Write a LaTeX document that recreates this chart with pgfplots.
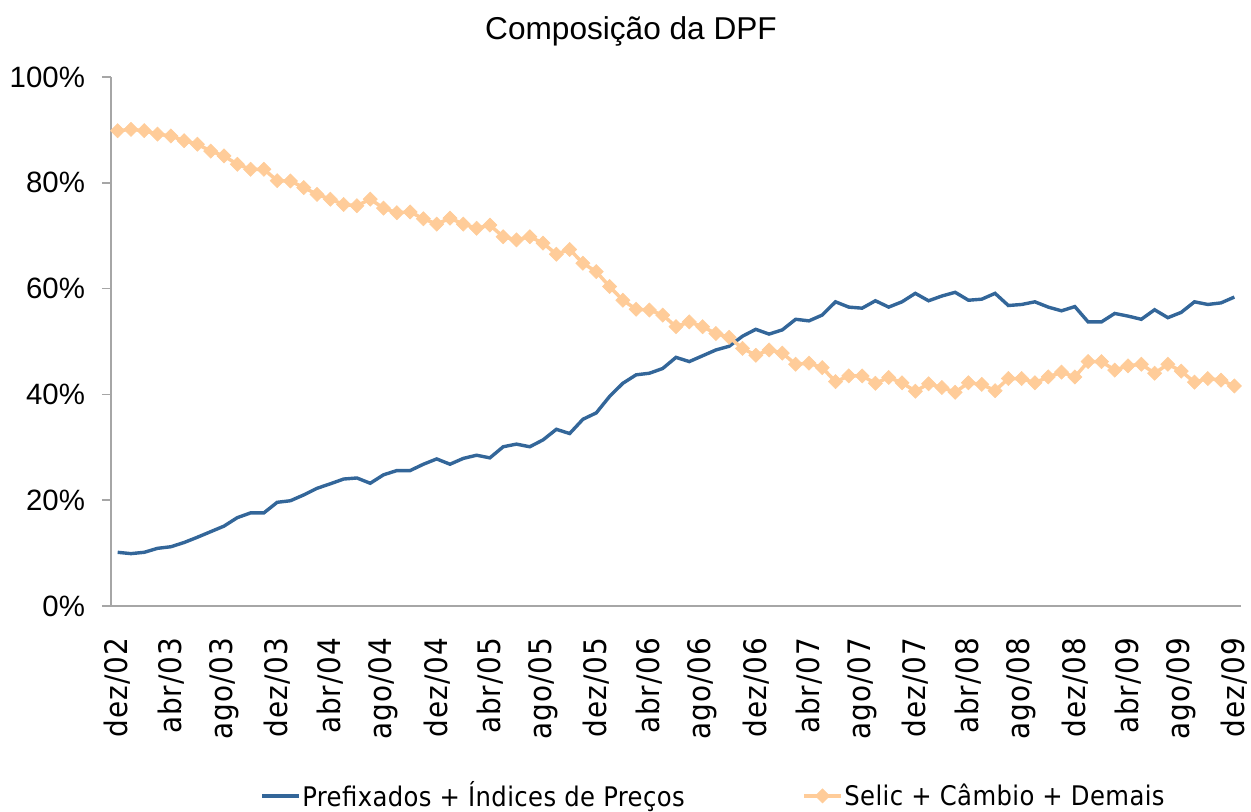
\documentclass[border=0pt]{standalone}
\usepackage{pgfplots}
\pgfplotsset{compat=1.18}
\usepackage{fontspec}
\setmainfont{Liberation Sans}
\newfontfamily\tickfont[LetterSpace=3]{DejaVu Sans Condensed}
\newfontfamily\legfont[LetterSpace=1.5]{DejaVu Sans Condensed}
\definecolor{blueline}{RGB}{51,102,153}
\definecolor{orangeline}{RGB}{255,204,153}
\definecolor{axisgray}{RGB}{166,166,166}

\pgfplotstableread{
i v
0 10.15
1 9.9
2 10.15
3 10.9
4 11.2
5 12.0
6 13.0
7 14.05
8 15.1
9 16.7
10 17.6
11 17.6
12 19.6
13 19.9
14 21.0
15 22.25
16 23.1
17 24.0
18 24.2
19 23.2
20 24.8
21 25.6
22 25.6
23 26.8
24 27.8
25 26.8
26 27.9
27 28.5
28 28.0
29 30.1
30 30.6
31 30.1
32 31.4
33 33.4
34 32.6
35 35.3
36 36.5
37 39.6
38 42.1
39 43.7
40 44.0
41 44.9
42 47.0
43 46.2
44 47.3
45 48.4
46 49.1
47 51.0
48 52.3
49 51.4
50 52.2
51 54.2
52 53.9
53 55.0
54 57.5
55 56.5
56 56.3
57 57.7
58 56.5
59 57.5
60 59.1
61 57.7
62 58.6
63 59.3
64 57.8
65 58.0
66 59.1
67 56.8
68 57.0
69 57.5
70 56.5
71 55.8
72 56.6
73 53.7
74 53.7
75 55.3
76 54.8
77 54.2
78 56.0
79 54.5
80 55.5
81 57.5
82 57.0
83 57.3
84 58.4
}\prefixados

\pgfplotstableread{
i v
0 89.85
1 90.1
2 89.85
3 89.2
4 88.85
5 87.96
6 87.3
7 86.0
8 85.07
9 83.5
10 82.55
11 82.55
12 80.4
13 80.34
14 79.1
15 77.8
16 76.9
17 75.9
18 75.67
19 76.9
20 75.2
21 74.35
22 74.5
23 73.2
24 72.2
25 73.3
26 72.2
27 71.4
28 72.0
29 69.8
30 69.2
31 69.8
32 68.6
33 66.5
34 67.4
35 64.8
36 63.2
37 60.4
38 57.8
39 56.1
40 55.95
41 55.0
42 52.8
43 53.7
44 52.8
45 51.5
46 50.8
47 48.7
48 47.4
49 48.4
50 47.8
51 45.7
52 45.9
53 45.05
54 42.4
55 43.5
56 43.5
57 42.1
58 43.2
59 42.2
60 40.6
61 42.0
62 41.3
63 40.4
64 42.2
65 41.9
66 40.7
67 43.0
68 43.0
69 42.2
70 43.3
71 44.2
72 43.3
73 46.2
74 46.2
75 44.6
76 45.4
77 45.7
78 44.0
79 45.7
80 44.4
81 42.3
82 43.0
83 42.7
84 41.6
}\selic

\begin{document}
\begin{tikzpicture}[x=1pt,y=1pt]
\path[use as bounding box] (-55.5,-103) rectangle (570,303);
\begin{axis}[
  at={(0,0)}, anchor=south west,
  scale only axis,
  width=565pt, height=264.5pt,
  xmin=-0.5, xmax=84.5,
  ymin=0, ymax=100,
  axis x line=bottom, axis y line=left,
  axis line style={draw=axisgray, line width=0.8pt, -},
  x axis line style={-}, y axis line style={-},
  xtick={0,4,...,84},
  xticklabels={dez/02,abr/03,ago/03,dez/03,abr/04,ago/04,dez/04,abr/05,ago/05,dez/05,abr/06,ago/06,dez/06,abr/07,ago/07,dez/07,abr/08,ago/08,dez/08,abr/09,ago/09,dez/09},
  major x tick style={draw=none},
  extra x ticks={-0.5,3.5,...,83.5},
  extra x tick labels={},
  extra x tick style={major tick length=10pt, tick style={draw=axisgray, line width=0.8pt}},
  tick align=outside,
  xticklabel style={font=\tickfont\fontsize{15.5}{18}\selectfont, yshift=-8pt, rotate=90, anchor=east},
  ytick={0,20,...,100},
  yticklabels={0\%,20\%,40\%,60\%,80\%,100\%},
  ytick style={draw=axisgray, line width=0.8pt},
  major tick length=4.5pt,
  yticklabel style={font=\fontsize{14.7}{18}\selectfont, xshift=-5pt},
  clip=false,
  legend columns=2,
  legend style={at={(0.533,-0.359)}, anchor=center, draw=none, fill=none,
    font=\legfont\fontsize{13.5}{16}\selectfont,
    /tikz/every even column/.append style={column sep=58pt},
    nodes={inner sep=0.8pt}},
  legend image code/.code={\draw[mark repeat=2,mark phase=2,#1] plot coordinates {(0pt,0pt)(9.25pt,0pt)(18.5pt,0pt)};},
]
\addplot[color=blueline, line width=1.7pt, mark=none] table[x=i,y=v] {\prefixados};
\addlegendentry{Prefixados + Índices de Preços}
\addplot[color=orangeline, line width=1.75pt, mark=square*, mark size=2.5pt,
  mark options={rotate=45, fill=orangeline, draw=orangeline, line width=0.3pt}] table[x=i,y=v] {\selic};
\addlegendentry{Selic + Câmbio + Demais}
\end{axis}
\node[anchor=base, font=\fontsize{15.8}{19}\selectfont] at (260,283) {Composição da DPF};
\end{tikzpicture}
\end{document}
